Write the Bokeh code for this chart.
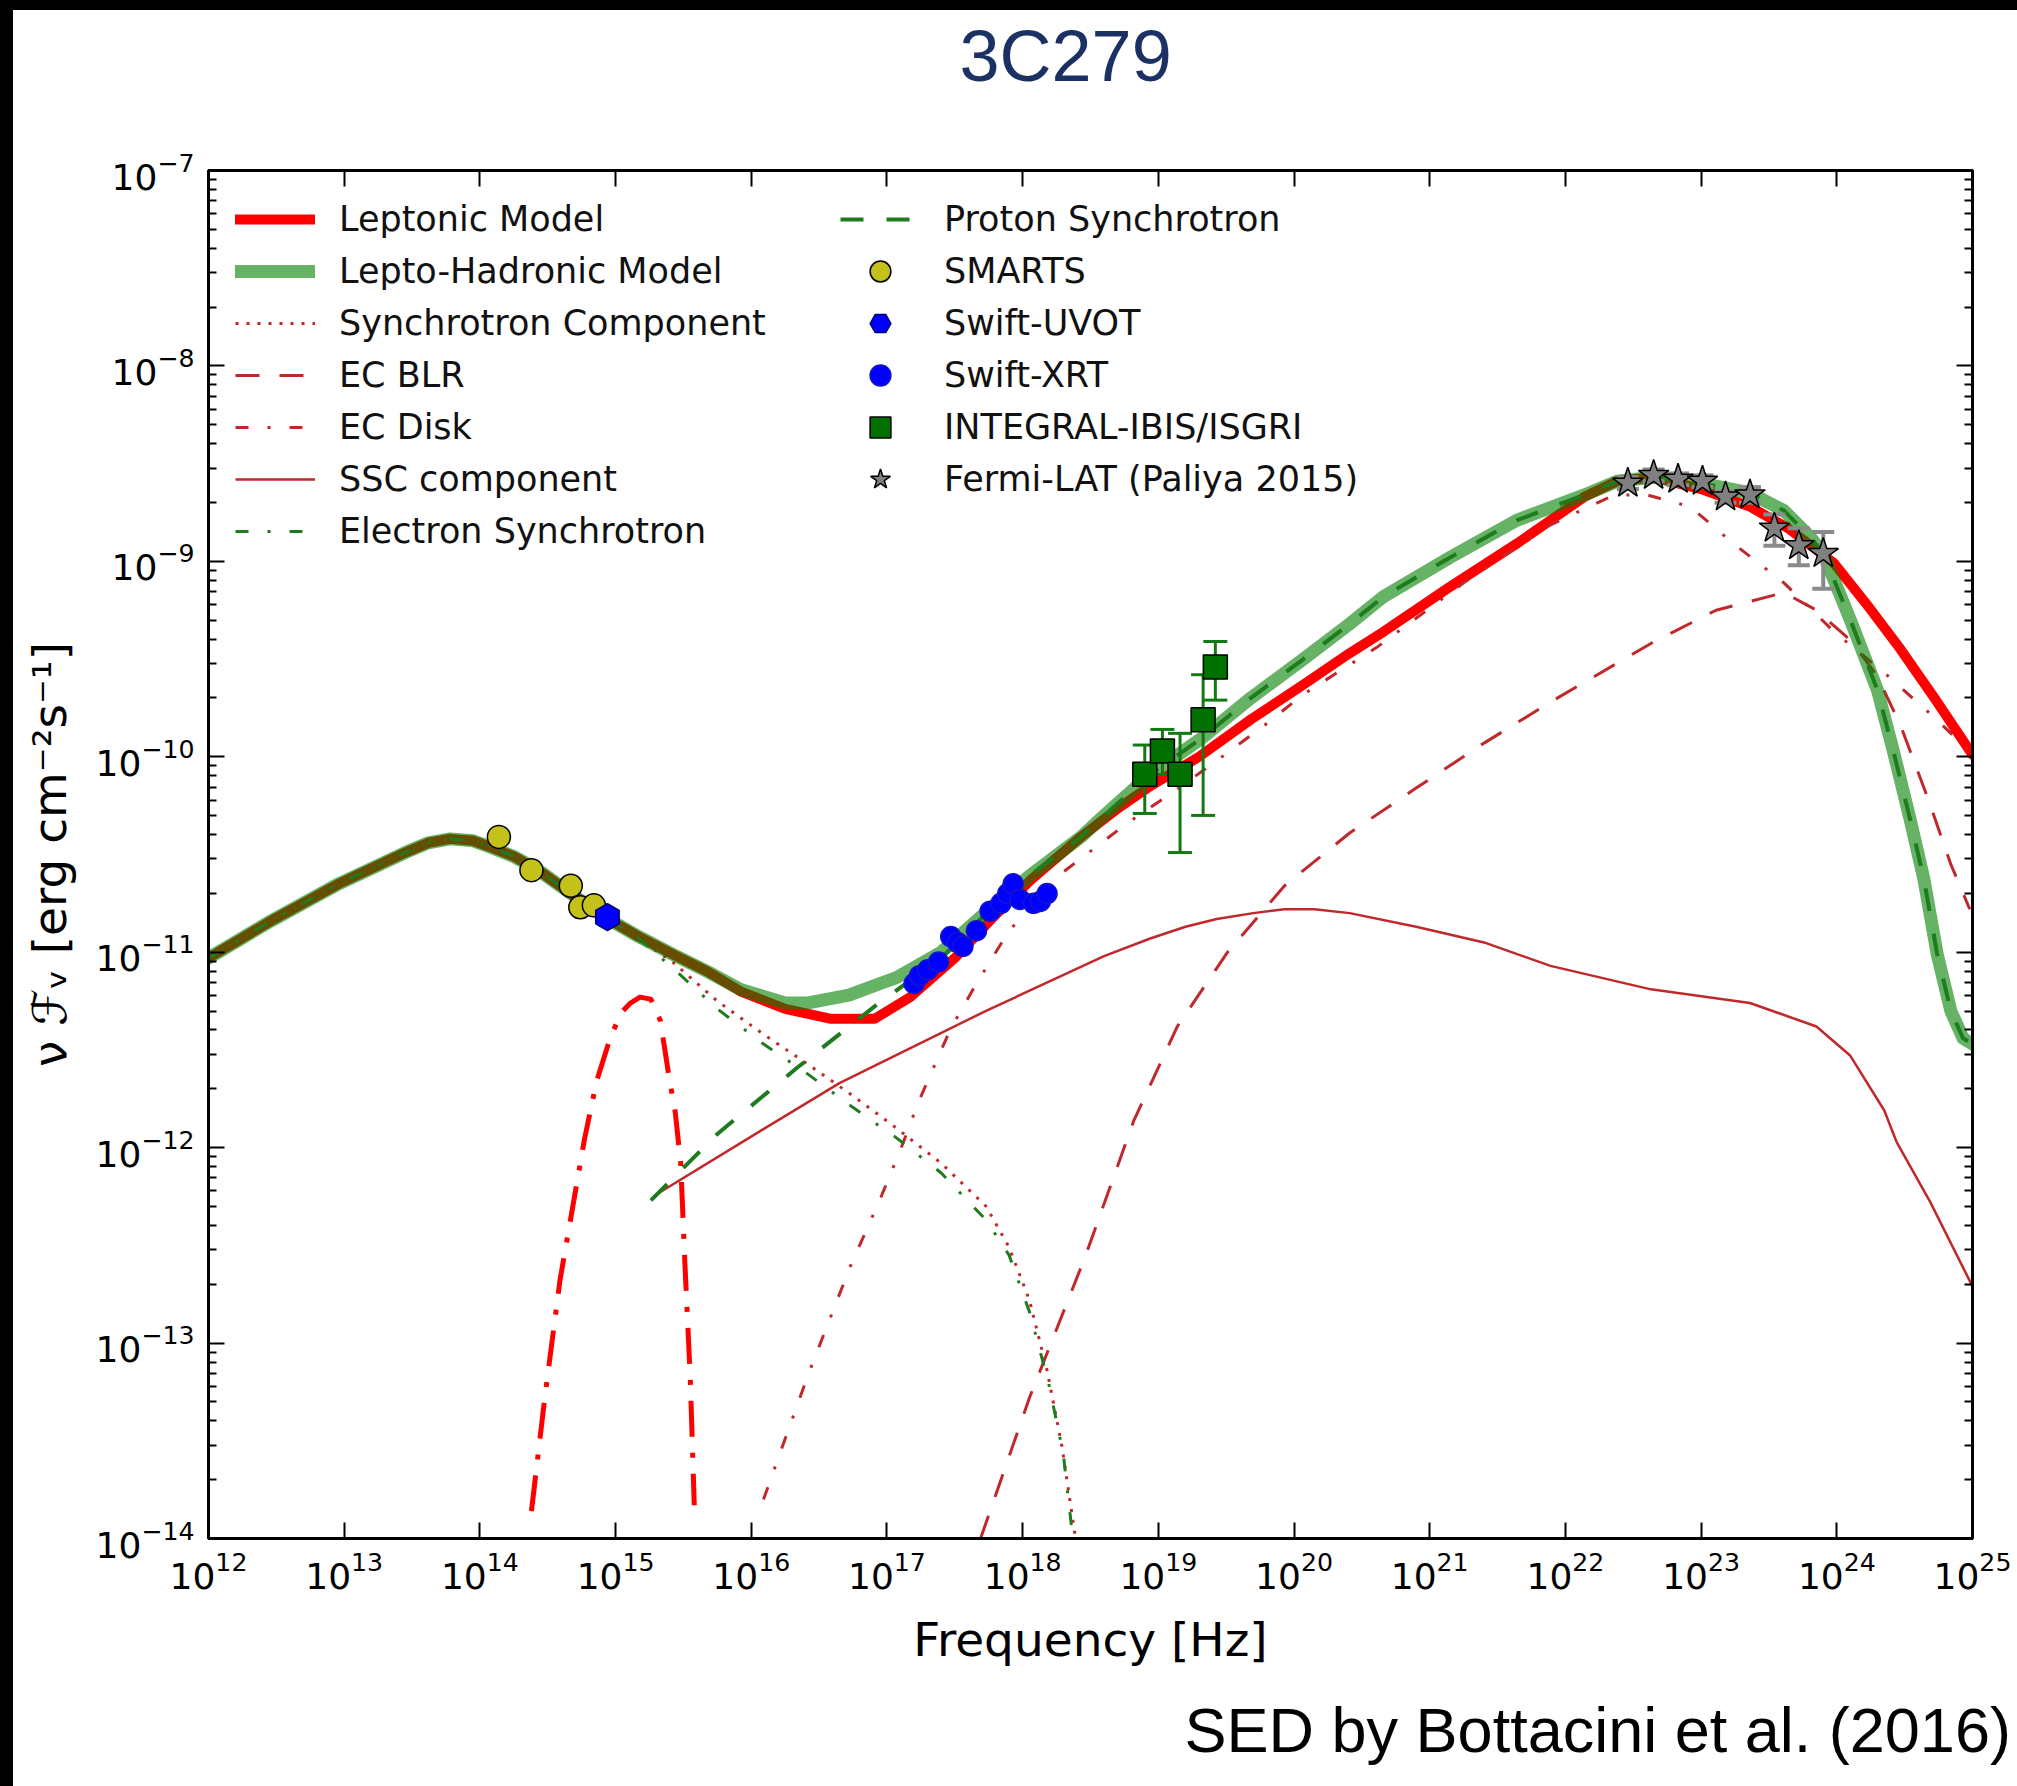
import numpy as np
from bokeh.plotting import figure
from bokeh.models import (FixedTicker, LogAxis, Legend, LegendItem, Title,
                          CustomJSTickFormatter, Range1d)
from bokeh.embed import file_html
from bokeh.resources import INLINE

# ---------------------------------------------------------------------------
# Model curves: log10(nu / Hz) and log10(nu F_nu / erg cm^-2 s^-1)
# ---------------------------------------------------------------------------
lep_log_nu = [12.00, 12.46, 12.96, 13.45, 13.62, 13.78, 13.95, 14.07, 14.25, 14.43,
              14.67, 14.92, 15.17, 15.42, 15.68, 15.92, 16.25, 16.58, 16.91, 17.17,
              17.50, 17.77, 18.06, 18.43, 18.71, 18.94, 19.30, 19.68, 20.05, 20.41,
              20.66, 21.15, 21.64, 22.14, 22.38, 22.65, 23.00, 23.36, 23.64, 23.98,
              24.22, 24.47, 24.72, 25.00]
lep_log_f = [-11.03, -10.84, -10.65, -10.49, -10.44, -10.42, -10.43, -10.46, -10.51, -10.58,
             -10.70, -10.82, -10.92, -11.01, -11.10, -11.20, -11.29, -11.34, -11.34, -11.23,
             -11.03, -10.83, -10.63, -10.41, -10.26, -10.15, -10.00, -9.81, -9.64, -9.47,
             -9.36, -9.13, -8.91, -8.67, -8.59, -8.57, -8.63, -8.72, -8.83, -9.01,
             -9.22, -9.45, -9.70, -9.99]

had_log_nu = [12.00, 12.46, 12.96, 13.45, 13.62, 13.78, 13.95, 14.07, 14.25, 14.43,
              14.67, 14.92, 15.17, 15.42, 15.68, 15.92, 16.25, 16.41, 16.72, 16.95,
              17.07, 17.40, 17.69, 18.05, 18.43, 18.57, 18.94, 19.31, 19.68, 20.05,
              20.41, 20.66, 21.15, 21.64, 22.14, 22.38, 22.65, 23.00, 23.36, 23.61,
              23.81, 23.90, 24.10, 24.30, 24.42, 24.54, 24.64, 24.74, 24.84, 24.93, 25.00]
had_log_f = [-11.03, -10.84, -10.65, -10.49, -10.44, -10.42, -10.43, -10.46, -10.51, -10.58,
             -10.70, -10.82, -10.92, -11.01, -11.10, -11.19, -11.26, -11.26, -11.22, -11.16,
             -11.13, -11.00, -10.82, -10.61, -10.41, -10.32, -10.09, -9.91, -9.70, -9.51,
             -9.32, -9.18, -8.98, -8.79, -8.66, -8.59, -8.57, -8.60, -8.65, -8.74,
             -8.88, -8.96, -9.30, -9.66, -9.98, -10.32, -10.62, -11.01, -11.30, -11.44, -11.47]

syn_log_nu = [12.00, 12.46, 12.96, 13.45, 13.62, 13.78, 13.95, 14.07, 14.25, 14.43,
              14.67, 14.92, 15.17, 15.42, 15.75, 16.09, 16.41, 16.74, 17.07, 17.40,
              17.73, 17.90, 18.05, 18.18, 18.29, 18.39]
syn_log_f = [-11.03, -10.84, -10.65, -10.49, -10.44, -10.42, -10.43, -10.46, -10.51, -10.58,
             -10.70, -10.82, -10.93, -11.05, -11.25, -11.42, -11.57, -11.73, -11.90, -12.08,
             -12.30, -12.51, -12.78, -13.14, -13.53, -14.00]

ecb_log_nu = [17.69, 18.05, 18.46, 18.82, 19.14, 19.51, 19.93, 20.41, 20.90, 21.40,
              21.89, 22.63, 23.11, 23.61, 23.85, 24.11, 24.30, 24.47, 24.67, 24.84, 24.98]
ecb_log_f = [-14.00, -13.28, -12.56, -11.86, -11.38, -11.00, -10.66, -10.39, -10.16, -9.93,
             -9.72, -9.42, -9.25, -9.16, -9.25, -9.41, -9.59, -9.84, -10.21, -10.55, -10.78]

ecd_log_nu = [16.09, 16.42, 16.74, 16.94, 17.10, 17.23, 17.47, 17.66, 17.90, 18.10,
              18.28, 18.45, 18.77, 19.11, 19.43, 19.78, 20.07, 20.61, 21.27, 21.87,
              22.36, 22.60, 22.92, 23.24, 23.61, 23.98, 24.35, 24.72, 24.96]
ecd_log_f = [-13.80, -13.16, -12.59, -12.28, -12.01, -11.77, -11.39, -11.16, -10.89, -10.74,
             -10.60, -10.51, -10.34, -10.18, -10.02, -9.84, -9.68, -9.44, -9.10, -8.82,
             -8.66, -8.66, -8.72, -8.91, -9.11, -9.36, -9.57, -9.80, -9.96]

ssc_log_nu = [15.30, 15.96, 16.65, 17.73, 18.60, 18.94, 19.20, 19.43, 19.70, 19.93,
              20.15, 20.41, 20.90, 21.40, 21.89, 22.63, 23.36, 23.85, 24.10, 24.35,
              24.44, 24.69, 25.00]
ssc_log_f = [-12.24, -11.96, -11.67, -11.30, -11.02, -10.93, -10.87, -10.83, -10.80, -10.78,
             -10.78, -10.80, -10.87, -10.95, -11.07, -11.19, -11.26, -11.38, -11.53, -11.81,
             -11.97, -12.28, -12.71]

esy_log_nu = [12.00, 12.46, 12.96, 13.45, 13.62, 13.78, 13.95, 14.07, 14.25, 14.43,
              14.67, 14.92, 15.17, 15.42, 15.75, 16.09, 16.41, 16.74, 17.07, 17.40,
              17.73, 17.90, 18.05, 18.19, 18.30, 18.37]
esy_log_f = [-11.03, -10.84, -10.65, -10.49, -10.44, -10.42, -10.43, -10.46, -10.51, -10.58,
             -10.70, -10.82, -10.93, -11.08, -11.29, -11.47, -11.62, -11.79, -11.95, -12.13,
             -12.37, -12.55, -12.84, -13.20, -13.57, -14.00]

pro_log_nu = [15.26, 15.75, 16.34, 16.94, 17.40, 17.69, 18.05, 18.43, 18.57, 18.94,
              19.31, 19.68, 20.05, 20.41, 20.66, 21.15, 21.64, 22.14, 22.38, 22.65,
              23.00, 23.36, 23.61, 23.81, 23.90, 24.10, 24.30, 24.42, 24.54, 24.64,
              24.74, 24.84, 24.93, 25.00]
pro_log_f = [-12.27, -11.93, -11.59, -11.26, -11.03, -10.83, -10.61, -10.41, -10.32, -10.09,
             -9.91, -9.70, -9.51, -9.32, -9.18, -8.98, -8.79, -8.66, -8.59, -8.57,
             -8.60, -8.65, -8.74, -8.88, -8.96, -9.30, -9.66, -9.98, -10.32, -10.62,
             -11.01, -11.30, -11.44, -11.47]

# accretion-disk thermal bump
dsk_log_nu = [14.38, 14.48, 14.59, 14.67, 14.77, 14.86, 14.96, 15.04, 15.11, 15.18,
              15.26, 15.33, 15.39, 15.44, 15.48, 15.51, 15.55, 15.58]
dsk_log_f = [-13.86, -13.27, -12.68, -12.36, -11.96, -11.66, -11.44, -11.31, -11.26, -11.23,
             -11.24, -11.35, -11.62, -11.82, -12.08, -12.58, -13.17, -13.83]

# ---------------------------------------------------------------------------
# Observations
# ---------------------------------------------------------------------------
smarts_log_nu = [14.14, 14.38, 14.67, 14.74, 14.84]
smarts_log_f = [-10.41, -10.58, -10.66, -10.77, -10.76]

uvot_log_nu = [14.94]
uvot_log_f = [-10.82]

xrt_log_nu = [17.20, 17.24, 17.30, 17.38, 17.47, 17.52, 17.56, 17.66, 17.76, 17.84,
              17.89, 17.93, 17.98, 18.08, 18.13, 18.18]
xrt_log_f = [-11.16, -11.12, -11.09, -11.05, -10.92, -10.95, -10.97, -10.89, -10.79, -10.75,
             -10.70, -10.65, -10.73, -10.75, -10.74, -10.70]

integral_log_nu = [18.90, 19.03, 19.16, 19.33, 19.42]
integral_log_f = [-10.09, -9.97, -10.09, -9.81, -9.54]
integral_log_lo = [-10.29, -10.09, -10.49, -10.30, -9.71]
integral_log_hi = [-9.94, -9.86, -9.88, -9.58, -9.41]

fermi_log_nu = [22.46, 22.65, 22.83, 23.01, 23.18, 23.36, 23.54, 23.72, 23.90]
fermi_log_f = [-8.60, -8.56, -8.58, -8.59, -8.67, -8.66, -8.83, -8.92, -8.96]
fermi_log_lo = [-8.63, -8.59, -8.61, -8.62, -8.70, -8.70, -8.92, -9.02, -9.14]
fermi_log_hi = [-8.57, -8.53, -8.55, -8.56, -8.64, -8.62, -8.76, -8.83, -8.85]

x_decades = list(range(12, 26))
y_decades = list(range(-14, -6))


def pw(a):
    return np.power(10.0, np.asarray(a, dtype=float))


# the page carries a dark edge of 10 px on top and 13 px on the left;
# the figure box includes that edge, the canvas sits just inside it
EDGE_TOP, EDGE_LEFT = 10, 13
W, H = 2017, 1786
p = figure(width=W, height=H, x_axis_type="log", y_axis_type="log",
           x_range=Range1d(1e12, 1e25), y_range=Range1d(1e-14, 1e-7),
           output_backend="svg", toolbar_location=None,
           min_border_left=208 - EDGE_LEFT, min_border_right=45 + EDGE_LEFT,
           min_border_top=170 - EDGE_TOP, min_border_bottom=248 + EDGE_TOP,
           styles={"border-top": f"{EDGE_TOP}px solid black",
                   "border-left": f"{EDGE_LEFT}px solid black"})
p.background_fill_color = "white"
p.border_fill_color = "white"
p.outline_line_color = "black"
p.outline_line_width = 3
p.xgrid.visible = False
p.ygrid.visible = False

xt = FixedTicker(ticks=[10.0 ** e for e in x_decades], minor_ticks=[])
yt = FixedTicker(ticks=[10.0 ** e for e in y_decades],
                 minor_ticks=[m * 10.0 ** e for e in y_decades[:-1] for m in range(2, 10)])


def style_axis(ax):
    ax.axis_line_color = "black"
    ax.axis_line_width = 3
    ax.major_tick_in = 16
    ax.major_tick_out = 0
    ax.minor_tick_in = 8
    ax.minor_tick_out = 0
    ax.major_tick_line_color = "black"
    ax.major_tick_line_width = 2
    ax.minor_tick_line_color = "black"
    ax.minor_tick_line_width = 2
    ax.major_label_text_font = "DejaVu Sans"
    ax.major_label_text_font_size = "36px"
    ax.major_label_text_color = "black"
    ax.axis_label_text_font = "DejaVu Sans"
    ax.axis_label_text_font_style = "normal"
    ax.axis_label_text_color = "black"


xax = p.xaxis[0]
yax = p.yaxis[0]
xax.ticker = xt
yax.ticker = yt
style_axis(xax)
style_axis(yax)
xax.axis_label = "Frequency [Hz]"
xax.axis_label_text_font_size = "47px"
xax.major_label_standoff = 12
xax.axis_label_standoff = 20
yax.axis_label = "ν ℱᵥ [erg cm⁻²s⁻¹]"
yax.axis_label_text_font_size = "47px"
yax.major_label_standoff = 14
yax.axis_label_standoff = 16

blank = CustomJSTickFormatter(code="return ''")
top_ax = LogAxis(ticker=xt, formatter=blank)
right_ax = LogAxis(ticker=yt, formatter=blank)
style_axis(top_ax)
style_axis(right_ax)
top_ax.major_label_standoff = 0
right_ax.major_label_standoff = 0
p.add_layout(top_ax, "above")
p.add_layout(right_ax, "right")

# heading (the trailing blank line lifts it away from the frame) and credit line
p.add_layout(Title(text="3C279\n", align="left", offset=751, standoff=0,
                   text_font="Liberation Sans", text_font_size="72px",
                   text_line_height=0.93,
                   text_font_style="normal", text_color="#1c3163"), "above")
p.add_layout(Title(text="SED by Bottacini et al. (2016)", align="left", offset=976,
                   standoff=46, text_font="Liberation Sans", text_font_size="63px",
                   text_font_style="normal", text_color="black"), "below")

THIN_RED = "#c0282c"
THIN_GREEN = "#1e7b1e"

# model curves
r_lep = p.line(pw(lep_log_nu), pw(lep_log_f), line_color="#ff0000", line_width=10,
               line_join="round", line_cap="round")
r_syn = p.line(pw(syn_log_nu), pw(syn_log_f), line_color=THIN_RED, line_width=3,
               line_dash="3 8", line_join="round")
r_ecb = p.line(pw(ecb_log_nu), pw(ecb_log_f), line_color=THIN_RED, line_width=3,
               line_dash="24 20", line_join="round")
r_ecd = p.line(pw(ecd_log_nu), pw(ecd_log_f), line_color=THIN_RED, line_width=3,
               line_dash="13 19 3 19", line_join="round")
r_ssc = p.line(pw(ssc_log_nu), pw(ssc_log_f), line_color=THIN_RED, line_width=2.5,
               line_join="round")
r_dsk = p.line(pw(dsk_log_nu), pw(dsk_log_f), line_color="#ff0000", line_width=5,
               line_dash="36 16 5 16", line_join="round")
r_had = p.line(pw(had_log_nu), pw(had_log_f), line_color="#008000", line_alpha=0.6,
               line_width=13, line_join="round", line_cap="round")
r_pro = p.line(pw(pro_log_nu), pw(pro_log_f), line_color=THIN_GREEN, line_width=4,
               line_dash="23 23", line_join="round")
r_esy = p.line(pw(esy_log_nu), pw(esy_log_f), line_color=THIN_GREEN, line_width=3,
               line_dash="13 19 3 19", line_join="round")

# error bars
nu_i = pw(integral_log_nu)
p.segment(nu_i, pw(integral_log_lo), nu_i, pw(integral_log_hi),
          line_color="#137a13", line_width=3)
p.scatter(nu_i, pw(integral_log_lo), marker="dash", size=24, line_color="#137a13", line_width=3)
p.scatter(nu_i, pw(integral_log_hi), marker="dash", size=24, line_color="#137a13", line_width=3)

nu_f = pw(fermi_log_nu)
p.segment(nu_f, pw(fermi_log_lo), nu_f, pw(fermi_log_hi),
          line_color="#8a8a8a", line_width=4)
p.scatter(nu_f, pw(fermi_log_lo), marker="dash", size=22, line_color="#8a8a8a", line_width=4)
p.scatter(nu_f, pw(fermi_log_hi), marker="dash", size=22, line_color="#8a8a8a", line_width=4)

# data points
r_smarts = p.scatter(pw(smarts_log_nu), pw(smarts_log_f), marker="circle", size=23,
                     fill_color="#c4c21a", line_color="black", line_width=1.5)
r_uvot = p.scatter(pw(uvot_log_nu), pw(uvot_log_f), marker="hex", angle=np.pi / 6, size=27,
                   fill_color="#0000ff", line_color="#00006e", line_width=1.5)
r_xrt = p.scatter(pw(xrt_log_nu), pw(xrt_log_f), marker="circle", size=20,
                  fill_color="#0000ff", line_color="#1414c8", line_width=1.5)
r_int = p.scatter(nu_i, pw(integral_log_f), marker="square", size=24,
                  fill_color="#007000", line_color="black", line_width=1.5)
r_fermi = p.scatter(nu_f, pw(fermi_log_f), marker="star", size=32,
                    fill_color="#808080", line_color="black", line_width=1.5)


def make_legend(items, loc):
    return Legend(items=items, location=loc, orientation="vertical",
                  glyph_width=80, glyph_height=52, label_height=52, spacing=0,
                  padding=0, margin=0, label_standoff=24,
                  label_text_font="DejaVu Sans", label_text_font_size="35px",
                  label_text_color="#111111", border_line_color=None,
                  background_fill_alpha=0)


leg1 = make_legend([
    LegendItem(label="Leptonic Model", renderers=[r_lep]),
    LegendItem(label="Lepto-Hadronic Model", renderers=[r_had]),
    LegendItem(label="Synchrotron Component", renderers=[r_syn]),
    LegendItem(label="EC BLR", renderers=[r_ecb]),
    LegendItem(label="EC Disk", renderers=[r_ecd]),
    LegendItem(label="SSC component", renderers=[r_ssc]),
    LegendItem(label="Electron Synchrotron", renderers=[r_esy]),
], (27, 981))
leg2 = make_legend([
    LegendItem(label="Proton Synchrotron", renderers=[r_pro]),
    LegendItem(label="SMARTS", renderers=[r_smarts]),
    LegendItem(label="Swift-UVOT", renderers=[r_uvot]),
    LegendItem(label="Swift-XRT", renderers=[r_xrt]),
    LegendItem(label="INTEGRAL-IBIS/ISGRI", renderers=[r_int]),
    LegendItem(label="Fermi-LAT (Paliya 2015)", renderers=[r_fermi]),
], (632, 1033))
p.add_layout(leg1)
p.add_layout(leg2)

open("out.html", "w").write(file_html(p, INLINE, title="3C279"))
